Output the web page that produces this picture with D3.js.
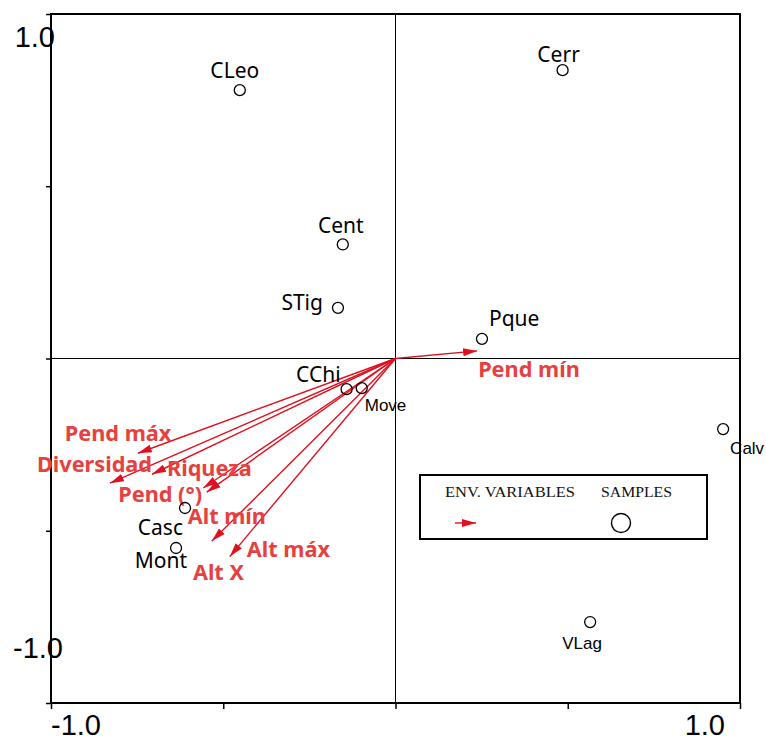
<!DOCTYPE html>
<html lang="es">
<head>
<meta charset="UTF-8">
<title>CCA biplot</title>
<style>
  body { margin: 0; background: #fff; }
  svg { display: block; }
  .tickLbl { font: 29px "Liberation Sans", Arial, sans-serif; fill: #000; }
  .sampLbl { font: 21px "Noto Sans", sans-serif; fill: #000; }
  .sampLbl.small { font: 17px "Liberation Sans", Arial, sans-serif; }
  .envLbl { font: bold 21.7px "Noto Sans", sans-serif; fill: #e8403f; }
  .legLbl { font: 15px "Liberation Serif", "Times New Roman", serif; fill: #111; }
</style>
</head>
<body>
<svg id="chart"></svg>
<script src="https://cdn.jsdelivr.net/npm/d3@7"></script>
<script>
// samples (site scores)
const sampleNames = ["CLeo", "Cerr", "Cent", "STig", "Pque", "CChi", "Move", "Calv", "VLag", "Casc", "Mont"];
const sampleX = [-0.452, 0.485, -0.153, -0.167, 0.251, -0.142, -0.098, 0.951, 0.565, -0.611, -0.637];
const sampleY = [0.779, 0.837, 0.331, 0.147, 0.057, -0.089, -0.086, -0.205, -0.765, -0.434, -0.550];

// environmental variables (arrow tips)
const envNames = ["Pend máx", "Diversidad", "Riqueza", "Pend (°)", "Alt mín", "Alt X", "Alt máx", "Pend mín"];
const envX = [-0.748, -0.829, -0.707, -0.558, -0.548, -0.533, -0.481, 0.237];
const envY = [-0.275, -0.362, -0.336, -0.376, -0.388, -0.530, -0.575, 0.022];

const axisTicks = [-1, -0.5, 0, 0.5, 1];

// label placement (pixels from the point, text anchor)
const sampleLabelPos = {
  CLeo: [-5, -12, "middle"], Cerr: [-4, -8, "middle"], Cent: [-2, -11, "middle"],
  STig: [-15, 2, "end"], Pque: [7, -13, "start"], CChi: [-6, -7, "end"],
  Move: [3, 23, "start"], Calv: [7, 25, "start"], VLag: [-8, 27, "middle"],
  Casc: [-2, 27, "end"], Mont: [11, 20, "end"]
};
const envLabelPos = {
  "Pend máx": [-73, -12], "Diversidad": [-73, -11], "Riqueza": [15, 2],
  "Pend (°)": [-85, 14], "Alt mín": [-19, 32], "Alt X": [-19, 39],
  "Alt máx": [17, 0], "Pend mín": [1, 26]
};
const smallNames = ["Move", "Calv", "VLag"];

const W = 766, H = 742;
const red = "#e0101f";

const svg = d3.select("#chart").attr("width", W).attr("height", H);

const x = d3.scaleLinear().domain([-1, 1]).range([51, 740]);
const y = d3.scaleLinear().domain([-1, 1]).range([703, 14]);

svg.append("defs").append("marker")
  .attr("id", "head")
  .attr("markerUnits", "userSpaceOnUse")
  .attr("viewBox", "0 -5 14 10")
  .attr("refX", 14).attr("refY", 0)
  .attr("markerWidth", 14).attr("markerHeight", 10)
  .attr("orient", "auto")
  .append("path")
  .attr("d", "M0,-4L14,0L0,4Z")
  .attr("fill", red);

// origin lines
svg.append("line")
  .attr("x1", x(-1)).attr("x2", x(1)).attr("y1", y(0)).attr("y2", y(0))
  .attr("stroke", "#000").attr("stroke-width", 1);
svg.append("line")
  .attr("x1", x(0)).attr("x2", x(0)).attr("y1", y(-1)).attr("y2", y(1))
  .attr("stroke", "#000").attr("stroke-width", 1);

// axes ticks only
const yAxis = svg.append("g")
  .attr("transform", "translate(" + x(-1) + ",0)")
  .call(d3.axisLeft(y).tickValues(axisTicks).tickSize(5).tickFormat(""));
const xAxis = svg.append("g")
  .attr("transform", "translate(0," + y(-1) + ")")
  .call(d3.axisBottom(x).tickValues(axisTicks).tickSize(6).tickFormat(""));
[xAxis, yAxis].forEach(g => {
  g.select(".domain").remove();
  g.selectAll("line").attr("stroke", "#000").attr("stroke-width", 1.5);
});

// frame
svg.append("rect")
  .attr("x", x(-1)).attr("y", y(1))
  .attr("width", x(1) - x(-1)).attr("height", y(-1) - y(1))
  .attr("fill", "none").attr("stroke", "#000").attr("stroke-width", 2);

// tick labels
svg.append("text").attr("class", "tickLbl").attr("text-anchor", "end")
  .attr("x", x(-1) + 4).attr("y", y(1) + 33).text("1.0");
svg.append("text").attr("class", "tickLbl").attr("text-anchor", "end")
  .attr("x", x(-1) + 12).attr("y", y(-1) - 45).text("-1.0");
svg.append("text").attr("class", "tickLbl").attr("text-anchor", "start")
  .attr("x", x(-1)).attr("y", y(-1) + 32).text("-1.0");
svg.append("text").attr("class", "tickLbl").attr("text-anchor", "end")
  .attr("x", x(1) - 15).attr("y", y(-1) + 32).text("1.0");

// env arrows
const env = envNames.map((n, i) => ({ name: n, x: envX[i], y: envY[i] }));
svg.selectAll(".envArrow")
  .data(env)
  .enter()
  .append("line")
  .attr("class", "envArrow")
  .attr("x1", x(0)).attr("y1", y(0))
  .attr("x2", d => x(d.x)).attr("y2", d => y(d.y))
  .attr("stroke", red).attr("stroke-width", 1.4)
  .attr("marker-end", "url(#head)");

svg.selectAll(".envLbl")
  .data(env)
  .enter()
  .append("text")
  .attr("class", "envLbl")
  .attr("x", d => x(d.x) + envLabelPos[d.name][0])
  .attr("y", d => y(d.y) + envLabelPos[d.name][1])
  .text(d => d.name);

// samples
const samples = sampleNames.map((n, i) => ({ name: n, x: sampleX[i], y: sampleY[i] }));
svg.selectAll(".samp")
  .data(samples)
  .enter()
  .append("circle")
  .attr("class", "samp")
  .attr("cx", d => x(d.x)).attr("cy", d => y(d.y))
  .attr("r", 5.5)
  .attr("fill", "none").attr("stroke", "#000").attr("stroke-width", 1.3);

svg.selectAll(".sampLbl")
  .data(samples)
  .enter()
  .append("text")
  .attr("class", d => smallNames.includes(d.name) ? "sampLbl small" : "sampLbl")
  .attr("x", d => x(d.x) + sampleLabelPos[d.name][0])
  .attr("y", d => y(d.y) + sampleLabelPos[d.name][1])
  .attr("text-anchor", d => sampleLabelPos[d.name][2])
  .text(d => d.name);

// legend
const leg = svg.append("g").attr("transform", "translate(420,475)");
leg.append("rect")
  .attr("width", 287).attr("height", 64)
  .attr("fill", "#fff").attr("stroke", "#000").attr("stroke-width", 2);
leg.append("text").attr("class", "legLbl").attr("x", 25).attr("y", 22)
  .attr("textLength", 130).attr("lengthAdjust", "spacingAndGlyphs")
  .text("ENV. VARIABLES");
leg.append("text").attr("class", "legLbl").attr("x", 181).attr("y", 22)
  .attr("textLength", 71).attr("lengthAdjust", "spacingAndGlyphs")
  .text("SAMPLES");
leg.append("line")
  .attr("x1", 35).attr("x2", 56).attr("y1", 48).attr("y2", 48)
  .attr("stroke", red).attr("stroke-width", 1.4)
  .attr("marker-end", "url(#head)");
leg.append("circle")
  .attr("cx", 201).attr("cy", 48).attr("r", 9.5)
  .attr("fill", "none").attr("stroke", "#000").attr("stroke-width", 1.4);
</script>
</body>
</html>
